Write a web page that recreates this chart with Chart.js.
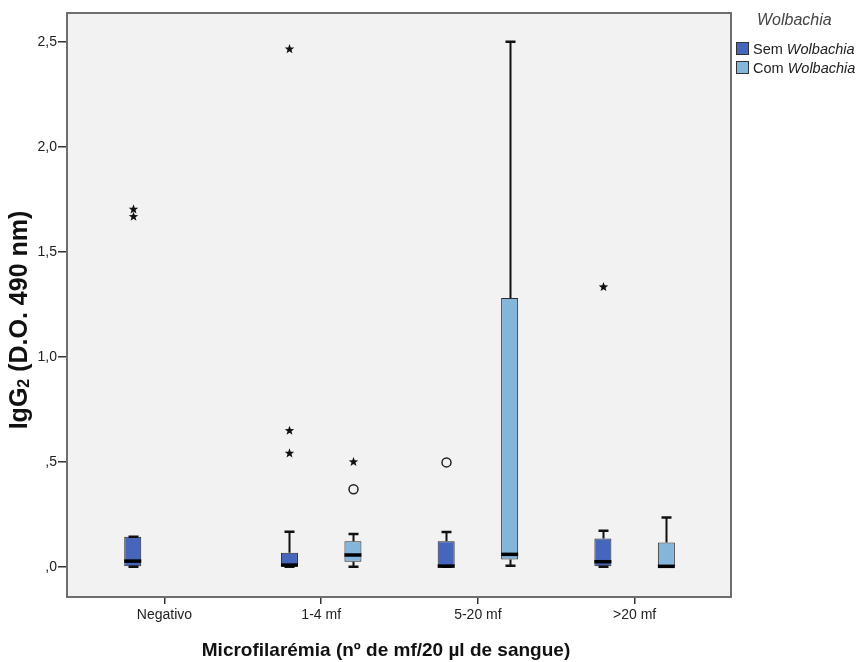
<!DOCTYPE html>
<html>
<head>
<meta charset="utf-8">
<script src="https://cdn.jsdelivr.net/npm/chart.js@4/dist/chart.umd.min.js"></script>
<style>
  html, body { margin: 0; padding: 0; background: #ffffff; }
  #wrap { position: relative; width: 858px; height: 662px; }
</style>
</head>
<body>
<div id="wrap"><canvas id="chart" width="858" height="662"></canvas></div>
<script>
// Categories of microfilaraemia
const categories = ['Negativo', '1-4 mf', '5-20 mf', '>20 mf'];

// Y axis ticks
const yTickValues = [0, 0.5, 1.0, 1.5, 2.0, 2.5];
const yTickLabels = [',0', ',5', '1,0', '1,5', '2,0', '2,5'];

// Series names
const seriesPrefix = ['Sem', 'Com'];
const seriesGroup = 'Wolbachia';

// "Sem Wolbachia" five-number summaries per category
const semLow  = [0.000, 0.000, 0.000, 0.000];
const semQ1   = [0.003, 0.001, 0.000, 0.002];
const semMed  = [0.027, 0.008, 0.003, 0.024];
const semQ3   = [0.143, 0.067, 0.122, 0.135];
const semHigh = [0.143, 0.167, 0.165, 0.171];
const semExtremes = [[1.667, 1.702], [0.540, 0.648, 2.465], [], [1.332]];
const semOutliers = [[], [], [0.497], []];

// "Com Wolbachia" five-number summaries per category (none for Negativo)
const comLow  = [null, 0.000, 0.005, 0.000];
const comQ1   = [null, 0.024, 0.035, 0.000];
const comMed  = [null, 0.056, 0.059, 0.002];
const comQ3   = [null, 0.122, 1.280, 0.116];
const comHigh = [null, 0.156, 2.500, 0.235];
const comExtremes = [[], [0.499], [], []];
const comOutliers = [[], [0.369], [], []];

const series = [
  { low: semLow, q1: semQ1, med: semMed, q3: semQ3, high: semHigh, extremes: semExtremes, outliers: semOutliers, color: '#4666BE' },
  { low: comLow, q1: comQ1, med: comMed, q3: comQ3, high: comHigh, extremes: comExtremes, outliers: comOutliers, color: '#84B6DC' }
];

function boxData(s) {
  const out = [];
  categories.forEach((_, i) => {
    if (s.q1[i] !== null) out.push({ x: i, y: [s.q1[i], s.q3[i]] });
  });
  return out;
}

const FONT = "'Liberation Sans', Arial, sans-serif";

// Plot background and frame
const frame = {
  id: 'frame',
  beforeDraw(chart) {
    const { ctx, chartArea: a } = chart;
    ctx.save();
    ctx.fillStyle = '#F2F2F2';
    ctx.fillRect(a.left, a.top, a.right - a.left, a.bottom - a.top);
    ctx.restore();
  },
  afterDraw(chart) {
    const { ctx, chartArea: a } = chart;
    ctx.save();
    ctx.strokeStyle = '#6E6E6E';
    ctx.lineWidth = 2;
    ctx.strokeRect(a.left, a.top, a.right - a.left, a.bottom - a.top);
    ctx.restore();
  }
};

function star(ctx, x, y, ro, ri) {
  ctx.beginPath();
  for (let k = 0; k < 10; k++) {
    const r = k % 2 === 0 ? ro : ri;
    const ang = -Math.PI / 2 + k * Math.PI / 5;
    const px = x + r * Math.cos(ang), py = y + r * Math.sin(ang);
    if (k === 0) ctx.moveTo(px, py); else ctx.lineTo(px, py);
  }
  ctx.closePath();
  ctx.fill();
}

// Whiskers, medians and outlying points drawn on top of the boxes
const boxParts = {
  id: 'boxParts',
  afterDatasetsDraw(chart) {
    const { ctx } = chart;
    const ys = chart.scales.y;
    ctx.save();
    chart.data.datasets.forEach((ds, di) => {
      const s = series[di];
      const meta = chart.getDatasetMeta(di);
      meta.data.forEach((el, k) => {
        const i = ds.data[k].x;
        const cx = Math.round(el.x) + 0.5;
        const half = el.width / 2;
        const yLow = ys.getPixelForValue(s.low[i]);
        const yQ1 = ys.getPixelForValue(s.q1[i]);
        const yQ3 = ys.getPixelForValue(s.q3[i]);
        const yHigh = ys.getPixelForValue(s.high[i]);
        const yMed = ys.getPixelForValue(s.med[i]);
        ctx.strokeStyle = '#111';
        ctx.lineWidth = 2;
        ctx.beginPath();
        ctx.moveTo(cx, yQ3); ctx.lineTo(cx, yHigh);
        ctx.moveTo(cx, yQ1); ctx.lineTo(cx, yLow);
        ctx.stroke();
        ctx.lineWidth = 2.5;
        ctx.beginPath();
        ctx.moveTo(cx - 5, yHigh); ctx.lineTo(cx + 5, yHigh);
        ctx.moveTo(cx - 5, yLow); ctx.lineTo(cx + 5, yLow);
        ctx.stroke();
        ctx.fillStyle = '#000';
        ctx.fillRect(el.x - half, yMed - 1.75, el.width, 3.5);
        s.extremes[i].forEach(v => {
          ctx.fillStyle = '#111';
          star(ctx, cx, ys.getPixelForValue(v), 5, 2.1);
        });
        s.outliers[i].forEach(v => {
          ctx.strokeStyle = '#222';
          ctx.lineWidth = 1.5;
          ctx.beginPath();
          ctx.arc(cx, ys.getPixelForValue(v), 4.5, 0, Math.PI * 2);
          ctx.stroke();
        });
      });
    });
    ctx.restore();
  }
};

// Axis titles and legend
const labels = {
  id: 'labels',
  afterDraw(chart) {
    const { ctx } = chart;
    ctx.save();
    ctx.fillStyle = '#111';
    ctx.textBaseline = 'middle';
    // x axis title
    ctx.font = 'bold 19px ' + FONT;
    ctx.textAlign = 'center';
    ctx.fillText('Microfilarémia (nº de mf/20 µl de sangue)', 386, 651);
    // y axis title with subscript
    ctx.translate(20, 320);
    ctx.rotate(-Math.PI / 2);
    const p1 = 'IgG', p2 = '2', p3 = ' (D.O. 490 nm)';
    ctx.font = 'bold 25px ' + FONT;
    const w1 = ctx.measureText(p1).width, w3 = ctx.measureText(p3).width;
    ctx.font = 'bold 16px ' + FONT;
    const w2 = ctx.measureText(p2).width;
    let x = -(w1 + w2 + w3) / 2;
    ctx.textAlign = 'left';
    ctx.font = 'bold 25px ' + FONT;
    ctx.fillText(p1, x, 0); x += w1;
    ctx.font = 'bold 16px ' + FONT;
    ctx.fillText(p2, x, 5); x += w2;
    ctx.font = 'bold 25px ' + FONT;
    ctx.fillText(p3, x, 0);
    ctx.setTransform(1, 0, 0, 1, 0, 0);
    // legend
    ctx.textAlign = 'left';
    ctx.fillStyle = '#444';
    ctx.font = 'italic 16px ' + FONT;
    ctx.fillText(seriesGroup, 757, 21);
    series.forEach((s, k) => {
      const y = 49 + k * 19;
      ctx.fillStyle = s.color;
      ctx.fillRect(736.5, y - 6.5, 12, 12);
      ctx.strokeStyle = '#333';
      ctx.lineWidth = 1;
      ctx.strokeRect(736.5, y - 6.5, 12, 12);
      ctx.fillStyle = '#222';
      ctx.font = '14.5px ' + FONT;
      const pre = seriesPrefix[k] + ' ';
      ctx.fillText(pre, 753, y + 1);
      const pw = ctx.measureText(pre).width;
      ctx.font = 'italic 14.5px ' + FONT;
      ctx.fillText(seriesGroup, 753 + pw, y + 1);
    });
    ctx.restore();
  }
};

new Chart(document.getElementById('chart'), {
  type: 'bar',
  data: {
    datasets: series.map((s, k) => ({
      label: seriesPrefix[k] + ' ' + seriesGroup,
      data: boxData(s),
      backgroundColor: s.color,
      borderColor: '#2A2A2A',
      borderWidth: 1,
      borderSkipped: false,
      categoryPercentage: 0.81,
      barPercentage: 0.268
    }))
  },
  options: {
    responsive: false,
    animation: false,
    devicePixelRatio: 1,
    layout: { padding: { left: 0, top: 13, right: 127, bottom: 0 } },
    plugins: { legend: { display: false }, tooltip: { enabled: false } },
    scales: {
      x: {
        type: 'linear',
        min: -0.622,
        max: 3.615,
        offset: false,
        afterBuildTicks: s => { s.ticks = categories.map((_, i) => ({ value: i })); },
        afterFit: s => { s.height = 65; },
        grid: { offset: false, drawOnChartArea: false, drawTicks: true, tickLength: 7, color: '#333', lineWidth: 1.5 },
        border: { display: false },
        ticks: {
          callback: (v, i) => categories[i],
          color: '#222',
          font: { family: FONT, size: 14 },
          padding: 3,
          maxRotation: 0,
          autoSkip: false
        }
      },
      y: {
        min: -0.144,
        max: 2.637,
        afterBuildTicks: s => { s.ticks = yTickValues.map(v => ({ value: v })); },
        afterFit: s => { s.width = 67; },
        grid: { drawOnChartArea: false, drawTicks: true, tickLength: 9, color: '#333', lineWidth: 1.5 },
        border: { display: false },
        ticks: {
          callback: (v, i) => yTickLabels[i],
          color: '#222',
          font: { family: FONT, size: 14 },
          padding: 1,
          autoSkip: false
        }
      }
    }
  },
  plugins: [frame, boxParts, labels]
});
</script>
</body>
</html>
